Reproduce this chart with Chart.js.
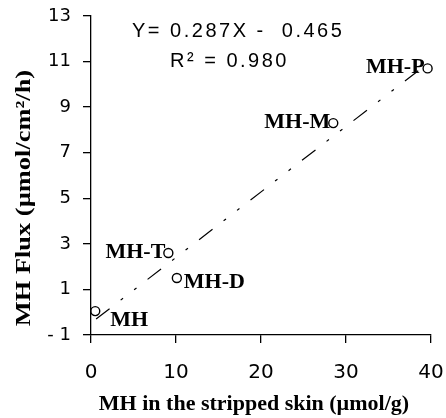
<!DOCTYPE html>
<html>
<head>
<meta charset="utf-8">
<script src="https://cdn.jsdelivr.net/npm/chart.js@4/dist/chart.umd.min.js"></script>
<style>
	body { margin: 0; background: #ffffff; }
	#wrap { width: 446px; height: 418px; }
</style>
</head>
<body>
<div id="wrap"><canvas id="myChart" width="446" height="418"></canvas></div>
<script>
// samples
var sampleNames = ['MH', 'MH-T', 'MH-D', 'MH-M', 'MH-P'];
var skinValues  = [0.5, 9.1, 10.1, 28.5, 39.6];   // umol/g
var fluxValues  = [0.05, 2.6, 1.5, 8.3, 10.7];    // umol/cm2/h

// where each name sits beside its point: 'left' or 'right'
var labelSide = ['right', 'left', 'right', 'left', 'left'];

// regression line as drawn
var trendX = [0.6, 38.5];
var trendY = [-0.3, 10.6];

var xTicks = [0, 10, 20, 30, 40];
var yTicks = [-1, 1, 3, 5, 7, 9, 11, 13];

var equationText = 'Y= 0.287X -  0.465';
var r2Text = 'R\u00B2 = 0.980';
var xTitle = 'MH in the stripped skin (\u00B5mol/g)';
var yTitle = 'MH Flux (\u00B5mol/cm\u00B2/h)';

var pointsData = skinValues.map(function(v, i) { return {x: v, y: fluxValues[i]}; });
var trendData = trendX.map(function(v, i) { return {x: v, y: trendY[i]}; });

function sansPadding(scale) {
	scale.paddingLeft = 0;
	scale.paddingRight = 0;
	scale.paddingTop = 0;
	scale.paddingBottom = 0;
}

var textesPlugin = {
	id: 'textes',
	afterDraw: function(chart) {
		var ctx = chart.ctx;
		var sx = chart.scales.x, sy = chart.scales.y;

		ctx.save();
		ctx.fillStyle = '#000000';

		// equation
		ctx.font = '20px "Liberation Sans"';
		ctx.letterSpacing = '2.5px';
		ctx.textAlign = 'left';
		ctx.textBaseline = 'alphabetic';
		ctx.fillText(equationText, 132, 37);
		ctx.fillText(r2Text, 170, 67);
		ctx.letterSpacing = '0px';

		// sample names
		ctx.font = 'bold 22px "Liberation Serif"';
		ctx.textBaseline = 'middle';
		sampleNames.forEach(function(nom, i) {
			var px = sx.getPixelForValue(skinValues[i]);
			var py = sy.getPixelForValue(fluxValues[i]);
			if (labelSide[i] == 'left') {
				ctx.textAlign = 'right';
				ctx.fillText(nom, px - 3, py - 1);
			} else {
				ctx.textAlign = 'left';
				ctx.fillText(nom, px + (i == 0 ? 15 : 7), py + (i == 0 ? 9 : 4));
			}
		});

		// axis titles
		ctx.textAlign = 'center';
		ctx.textBaseline = 'alphabetic';
		ctx.font = 'bold 22px "Liberation Serif"';
		ctx.fillText(xTitle, 254, 410);

		ctx.translate(30, 198);
		ctx.rotate(-Math.PI / 2);
		ctx.scale(1.2, 1);
		ctx.font = 'bold 22px "Liberation Serif"';
		ctx.fillText(yTitle, 0, 0);

		ctx.restore();
	}
};

var ctx = document.getElementById('myChart').getContext('2d');

var chart = new Chart(ctx, {
	type: 'scatter',
	data: {
		datasets: [
		{
			data: pointsData,
			pointStyle: 'circle',
			pointRadius: 4.5,
			pointBorderWidth: 1.4,
			pointBorderColor: '#000000',
			pointBackgroundColor: 'rgba(255,255,255,0)',
			showLine: false,
			clip: false,
			order: 1
		},
		{
			data: trendData,
			showLine: true,
			borderColor: '#000000',
			borderWidth: 1.2,
			borderDash: [17, 14, 3, 14, 3, 14],
			pointRadius: 0,
			fill: false,
			clip: false,
			order: 2
		}]
	},
	options: {
		responsive: false,
		animation: false,
		devicePixelRatio: 1,
		layout: {
			padding: {top: 16, right: 15, left: 0, bottom: 0}
		},
		scales: {
			x: {
				type: 'linear',
				min: 0,
				max: 40,
				afterBuildTicks: function(scale) {
					scale.ticks = xTicks.map(function(v) { return {value: v}; });
				},
				afterFit: function(scale) { scale.height = 83; sansPadding(scale); },
				grid: {
					drawOnChartArea: false,
					color: '#000000',
					lineWidth: 1.3,
					tickLength: 8
				},
				border: { color: '#000000', width: 1.3 },
				ticks: {
					color: '#000000',
					font: { family: '"DejaVu Sans"', size: 20 },
					padding: 18,
					maxRotation: 0
				}
			},
			y: {
				type: 'linear',
				min: -1,
				max: 13,
				afterBuildTicks: function(scale) {
					scale.ticks = yTicks.map(function(v) { return {value: v}; });
				},
				afterFit: function(scale) { scale.width = 91; sansPadding(scale); },
				grid: {
					drawOnChartArea: false,
					color: '#000000',
					lineWidth: 1.3,
					tickLength: 8
				},
				border: { color: '#000000', width: 1.3 },
				ticks: {
					color: '#000000',
					font: { family: '"DejaVu Sans"', size: 18 },
					padding: 12,
					callback: function(value) {
						return value < 0 ? '- ' + Math.abs(value) : '' + value;
					}
				}
			}
		},
		plugins: {
			legend: { display: false },
			tooltip: { enabled: false }
		}
	},
	plugins: [textesPlugin]
});
</script>
</body>
</html>
